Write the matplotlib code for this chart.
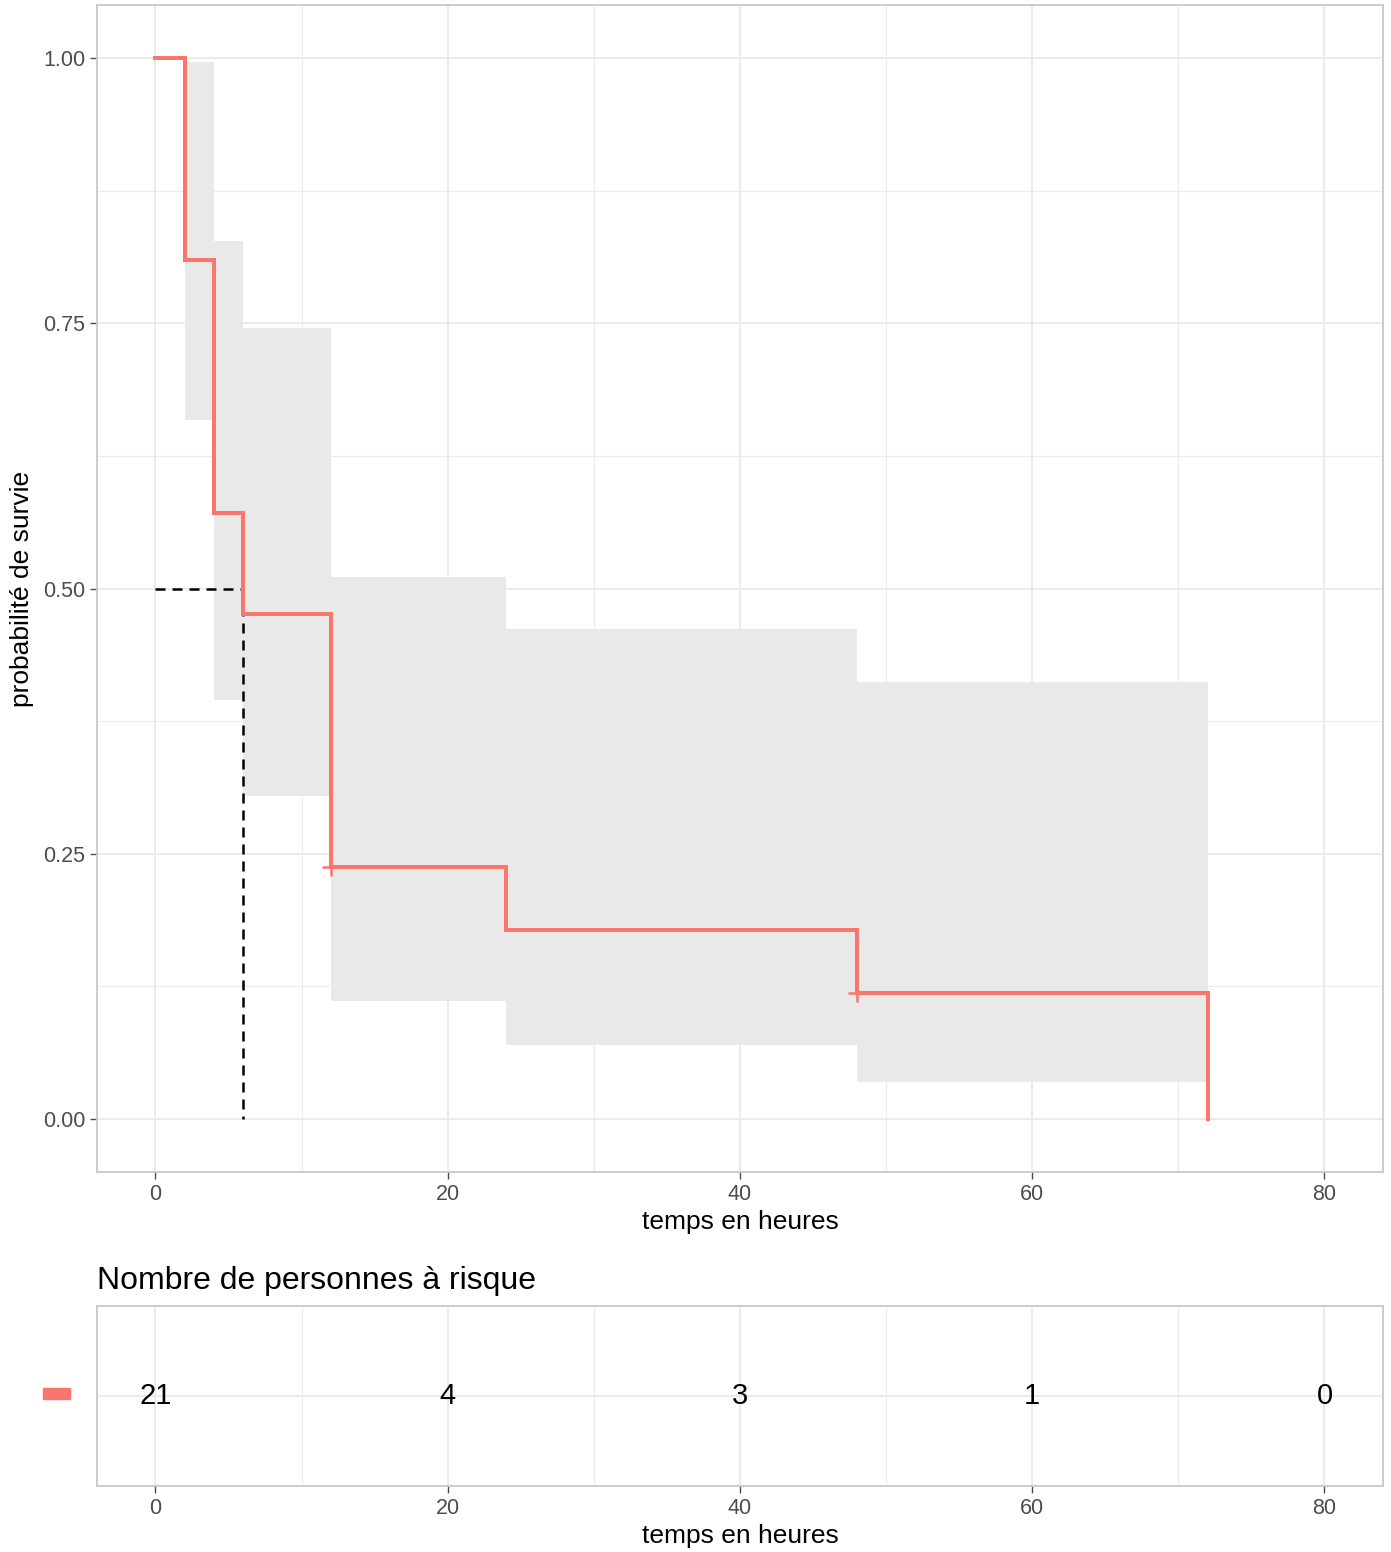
import numpy as np
import matplotlib
matplotlib.use("Agg")
import matplotlib.pyplot as plt
from matplotlib.patches import Rectangle

plt.rcParams["font.family"] = ["Liberation Sans", "DejaVu Sans"]

# Kaplan-Meier estimate
times = [0, 2, 4, 6, 12, 24, 48, 72]
surv = [1.0, 0.810, 0.571, 0.476, 0.238, 0.178, 0.119, 0.0]
upper = [1.0, 0.996, 0.828, 0.746, 0.511, 0.462, 0.412, 0.412]
lower = [1.0, 0.659, 0.395, 0.304, 0.111, 0.070, 0.035, 0.035]
censor_t = [12, 48]
censor_s = [0.238, 0.119]
median_t = 6

risk_times = [0, 20, 40, 60, 80]
risk_n = [21, 4, 3, 1, 0]

red = "#F8766D"
grid_c = "#EBEBEB"
border_c = "#C8C8C8"
tick_c = "#4D4D4D"

fig = plt.figure(figsize=(13.91, 15.52), dpi=100)
ax = fig.add_axes([0.0697, 0.2448, 0.9245, 0.752])

# confidence band (stops at the last step)
ax.fill_between(times[:-1], lower[:-1], upper[:-1], step="post",
                color="#E9E9E9", lw=0, zorder=1)
ax.fill_between([48, 72], [lower[-2]] * 2, [upper[-2]] * 2,
                color="#E9E9E9", lw=0, zorder=1)

ax.step(times, surv, where="post", color=red, lw=2.9, zorder=3,
        solid_joinstyle="miter")
ax.plot(censor_t, censor_s, ls="none", marker="+", ms=13, mew=1.8,
        color=red, zorder=4)

# median survival
ax.plot([0, median_t], [0.5, 0.5], color="black", ls=(0, (4, 2.8)), lw=1.8, zorder=2)
ax.plot([median_t, median_t], [0.5, 0], color="black", ls=(0, (4, 2.8)), lw=1.8, zorder=2)

ax.set_xlim(-4, 84)
ax.set_ylim(-0.05, 1.05)
ax.set_xticks([0, 20, 40, 60, 80])
ax.set_xticks([10, 30, 50, 70], minor=True)
ax.set_yticks([0, 0.25, 0.5, 0.75, 1.0])
ax.set_yticklabels(["0.00", "0.25", "0.50", "0.75", "1.00"])
ax.set_yticks([0.125, 0.375, 0.625, 0.875], minor=True)
ax.grid(True, which="major", color=grid_c, lw=1.4, zorder=0)
ax.grid(True, which="minor", color=grid_c, lw=0.8, zorder=0)
ax.set_axisbelow(True)
ax.tick_params(which="major", length=5, color=tick_c, labelcolor=tick_c,
               labelsize=15.5, width=1)
ax.tick_params(which="minor", length=0)
for s in ax.spines.values():
    s.set_color(border_c)
    s.set_linewidth(1.3)
ax.set_xlabel("temps en heures", fontsize=19, labelpad=4)
ax.set_ylabel("probabilité de survie", fontsize=19, labelpad=6)

# risk table
ax2 = fig.add_axes([0.0697, 0.0425, 0.9245, 0.116])
for t, n in zip(risk_times, risk_n):
    ax2.text(t, 0, str(n), ha="center", va="center", fontsize=21)
ax2.set_xlim(-4, 84)
ax2.set_ylim(-1, 1)
ax2.set_xticks([0, 20, 40, 60, 80])
ax2.set_xticks([10, 30, 50, 70], minor=True)
ax2.set_yticks([0])
ax2.set_yticklabels([""])
ax2.grid(True, which="major", color=grid_c, lw=1.4, zorder=0)
ax2.grid(True, which="minor", color=grid_c, lw=0.8, zorder=0)
ax2.tick_params(which="major", length=5, color=tick_c, labelcolor=tick_c,
                labelsize=15.5, width=1)
ax2.tick_params(axis="y", length=0)
ax2.tick_params(which="minor", length=0)
for s in ax2.spines.values():
    s.set_color(border_c)
    s.set_linewidth(1.3)
ax2.set_xlabel("temps en heures", fontsize=19, labelpad=4)
ax2.set_title("Nombre de personnes à risque", loc="left", fontsize=23, pad=12)

# strata colour key
fig.patches.append(Rectangle((43 / 1391, 1 - 1399 / 1552), 27 / 1391, 11 / 1552,
                             transform=fig.transFigure, color=red))

fig.savefig("out.png", dpi=100)
